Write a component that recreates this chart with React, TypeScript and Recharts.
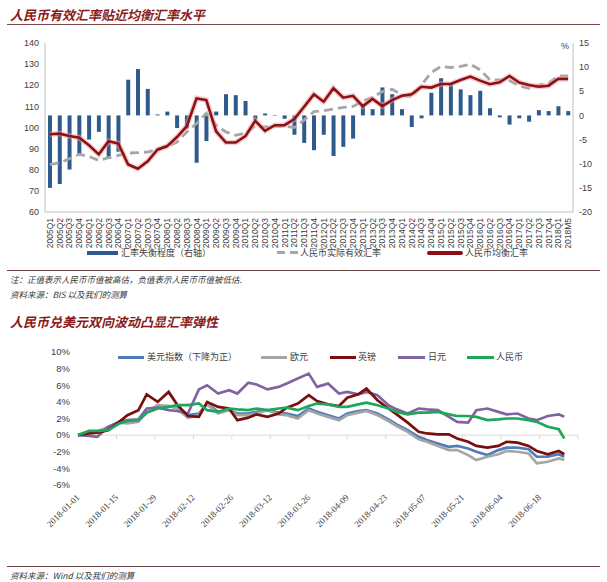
import React from 'react';
import { ComposedChart, Bar, Line, XAxis, YAxis, ReferenceLine } from 'recharts';

// ---------- Chart 1: 人民币有效汇率贴近均衡汇率水平 ----------
const quarters: string[] = [
  '2005Q1', '2005Q2', '2005Q3', '2005Q4', '2006Q1', '2006Q2', '2006Q3', '2006Q4',
  '2007Q1', '2007Q2', '2007Q3', '2007Q4', '2008Q1', '2008Q2', '2008Q3', '2008Q4',
  '2009Q1', '2009Q2', '2009Q3', '2009Q4', '2010Q1', '2010Q2', '2010Q3', '2010Q4',
  '2011Q1', '2011Q2', '2011Q3', '2011Q4', '2012Q1', '2012Q2', '2012Q3', '2012Q4',
  '2013Q1', '2013Q2', '2013Q3', '2013Q4', '2014Q1', '2014Q2', '2014Q3', '2014Q4',
  '2015Q1', '2015Q2', '2015Q3', '2015Q4', '2016Q1', '2016Q2', '2016Q3', '2016Q4',
  '2017Q1', '2017Q2', '2017Q3', '2017Q4', '2018Q1', '2018M5',
];

// 汇率失衡程度（右轴, %）
const misalignment: number[] = [
  -15.0, -14.2, -11.2, -8.4, -5.0, -3.4, -9.0, -7.5,
  7.4, 9.6, 5.5, 0.2, 0.8, -2.6, -2.7, -9.8,
  -5.3, 0.8, 4.4, 4.2, 3.0, -0.9, 0.4, 0.1,
  -0.7, -4.0, -5.7, -7.2, -4.0, -8.4, -6.5, -4.8,
  2.0, 1.3, 5.8, 4.4, 1.3, -2.4, -0.6, 4.7,
  7.7, 6.7, 5.4, 4.2, 5.1, 1.5, -0.4, -1.9,
  -0.6, -1.3, 1.1, 0.9, 1.9, 0.9,
];

// 人民币实际有效汇率
const reer: number[] = [
  82.4, 83.3, 85.2, 87.3, 86.3, 84.4, 85.7, 86.8,
  87.9, 88.1, 88.4, 89.7, 90.8, 93.1, 97.9, 101.9,
  106.7, 101.1, 97.9, 96.3, 97.4, 100.6, 100.3, 100.6,
  100.6, 100.0, 103.5, 107.5, 108.0, 108.7, 109.5, 110.0,
  112.5, 114.3, 117.0, 118.1, 115.4, 114.6, 120.1, 126.0,
  128.9, 128.4, 128.9, 130.0, 127.3, 122.5, 122.5, 122.2,
  119.7, 118.6, 120.1, 121.0, 124.4, 124.4,
];

// 人民币均衡汇率
const equilibrium: number[] = [
  96.8, 97.1, 96.0, 95.2, 91.6, 87.3, 93.5, 92.4,
  82.5, 80.5, 84.0, 89.5, 91.2, 95.5, 100.6, 113.8,
  113.0, 98.2, 92.9, 92.9, 95.9, 103.2, 98.4, 101.1,
  101.1, 104.0, 109.8, 115.7, 112.2, 118.6, 114.1, 115.0,
  110.1, 113.5, 110.1, 113.0, 115.0, 115.7, 119.3, 118.9,
  120.6, 120.6, 122.5, 124.1, 122.2, 120.5, 121.4, 124.4,
  121.3, 120.1, 119.3, 119.8, 123.1, 123.0,
];

const leftTicks: number[] = [60, 70, 80, 90, 100, 110, 120, 130, 140];
const rightTicks: number[] = [-20, -15, -10, -5, 0, 5, 10, 15];

// ---------- Chart 2: 人民币兑美元双向波动凸显汇率弹性 ----------
// days since 2018-01-01
const days: number[] = [
  0, 4, 7, 11, 15, 18, 22, 25, 29, 33,
  36, 40, 44, 47, 51, 55, 58, 62, 65, 69,
  73, 76, 80, 84, 87, 91, 95, 98, 102, 105,
  109, 113, 116, 120, 124, 127, 131, 135, 138, 142,
  145, 149, 153, 156, 160, 164, 167, 171, 175, 177,
];
const usdIdx: number[] = [
  0, 0.4, 0.4, 0.9, 1.6, 1.6, 1.7, 2.8, 3.4, 3.5,
  3.4, 2.4, 2.6, 3.8, 2.8, 3.0, 2.6, 2.6, 2.8, 3.0,
  2.7, 2.6, 2.3, 3.2, 2.8, 2.4, 2.0, 2.6, 2.9, 3.0,
  2.6, 1.9, 1.3, 0.6, -0.2, -0.6, -1.0, -1.4, -1.3, -1.6,
  -2.0, -2.4, -1.8, -1.5, -1.5, -1.7, -2.6, -2.6, -2.3, -2.6,
];
const eur: number[] = [
  0, 0.3, 0.4, 1.0, 1.5, 1.4, 1.6, 2.8, 3.6, 3.5,
  3.2, 2.1, 2.4, 3.7, 2.6, 3.0, 2.4, 2.4, 2.6, 3.0,
  2.5, 2.4, 2.0, 3.0, 2.6, 2.2, 1.8, 2.4, 2.7, 2.9,
  2.4, 1.7, 1.1, 0.4, -0.5, -0.8, -1.3, -1.8, -1.8, -2.4,
  -3.0, -2.6, -2.3, -1.9, -2.0, -2.2, -3.4, -3.2, -2.8, -3.0,
];
const gbp: number[] = [
  0, 0.2, 0.3, 0.6, 1.6, 2.4, 3.0, 4.9, 4.0, 5.2,
  3.7, 2.3, 2.2, 4.0, 3.4, 3.2, 1.8, 2.1, 2.5, 2.2,
  2.6, 3.3, 3.8, 4.8, 4.1, 3.7, 3.5, 4.5, 4.9, 5.6,
  4.2, 3.2, 2.5, 1.5, 0.4, 0.2, 0.1, 0.1, -0.4, -0.8,
  -1.3, -1.5, -1.3, -0.8, -0.9, -1.3, -1.9, -2.3, -1.9, -2.3,
];
const jpy: number[] = [
  0, -0.1, -0.2, 1.0, 1.6, 1.8, 1.9, 3.2, 3.3, 3.0,
  2.9, 2.6, 5.5, 6.0, 5.0, 5.4, 5.0, 6.3, 6.1, 5.5,
  5.8, 6.2, 6.8, 7.4, 5.8, 6.2, 5.0, 5.2, 4.9, 5.2,
  4.8, 3.6, 3.1, 2.6, 3.2, 3.1, 3.0, 2.2, 1.6, 1.5,
  3.0, 3.2, 2.8, 2.5, 2.6, 2.0, 1.8, 2.3, 2.5, 2.2,
];
const cny: number[] = [
  0, 0.5, 0.5, 0.6, 1.4, 1.7, 1.8, 2.7, 3.2, 3.4,
  3.6, 3.6, 3.8, 3.0, 2.8, 3.2, 3.1, 3.0, 3.2, 3.0,
  3.2, 3.3, 3.0, 3.5, 3.8, 3.7, 3.4, 3.4, 3.7, 3.9,
  3.6, 3.2, 2.8, 2.5, 2.7, 2.7, 2.8, 2.5, 2.3, 2.3,
  2.2, 1.8, 1.9, 2.0, 2.0, 1.8, 1.6, 1.0, 0.7, -0.4,
];
const dateTicks: number[] = [0, 14, 28, 42, 56, 70, 84, 98, 112, 126, 140, 154, 168];
const zeroLineTicks: number[] = [14, 28, 42, 56, 70, 84, 98, 112, 126, 140, 154, 168, 182];
const pctTicks: number[] = [-6, -4, -2, 0, 2, 4, 6, 8, 10];

const FONT_CJK = '"Noto Sans CJK SC", "Noto Sans", sans-serif';
const FONT_NUM = '"Liberation Sans", Arial, sans-serif';
const TEXT_COLOR = '#404040';

const C_BAR = '#2F5B8C';
const C_REER = '#A6A6A6';
const C_EQ = '#8E0F14';

const C_USD = '#4F7DBA';
const C_EUR = '#A5A5A5';
const C_GBP = '#7A0E0E';
const C_JPY = '#8064A2';
const C_CNY = '#1FA65A';

const QTick = (props: any) => {
  const { x, y, payload } = props;
  return (
    <text
      x={x}
      y={y}
      transform={`rotate(-90, ${x}, ${y})`}
      textAnchor="end"
      dy={3}
      fontSize={8.5}
      fontFamily={FONT_NUM}
      fill={TEXT_COLOR}
    >
      {payload.value}
    </text>
  );
};

const DateTick = (props: any) => {
  const { x, y, payload } = props;
  const dt = new Date(Date.UTC(2018, 0, 1 + Number(payload.value)));
  const s = dt.toISOString().slice(0, 10);
  return (
    <text
      x={x}
      y={y}
      transform={`rotate(-45, ${x}, ${y})`}
      textAnchor="end"
      dy={5}
      dx={-2}
      fontSize={9}
      fontFamily='"Liberation Serif", serif'
      fill={TEXT_COLOR}
    >
      {s}
    </text>
  );
};

const abs = (l: number, t: number, extra: React.CSSProperties = {}): React.CSSProperties => ({
  position: 'absolute',
  left: l,
  top: t,
  ...extra,
});

export default function App() {
  const topData = quarters.map((q, i) => ({
    q,
    mis: misalignment[i],
    reer: reer[i],
    eq: equilibrium[i],
  }));
  const fxData = days.map((d, i) => ({
    d,
    usd: usdIdx[i],
    eur: eur[i],
    gbp: gbp[i],
    jpy: jpy[i],
    cny: cny[i],
  }));

  const titleStyle: React.CSSProperties = {
    fontSize: 13,
    fontWeight: 700,
    fontStyle: 'italic',
    color: '#8B1A1A',
    whiteSpace: 'nowrap',
    fontFamily: FONT_CJK,
    lineHeight: '16px',
  };
  const legendText: React.CSSProperties = {
    fontSize: 9,
    color: TEXT_COLOR,
    whiteSpace: 'nowrap',
    fontFamily: FONT_CJK,
    lineHeight: '12px',
  };
  const noteText: React.CSSProperties = {
    fontSize: 8.5,
    fontStyle: 'italic',
    color: '#333',
    whiteSpace: 'nowrap',
    fontFamily: FONT_CJK,
    lineHeight: '12px',
  };

  return (
    <div
      style={{
        position: 'absolute',
        left: 0,
        top: 0,
        width: 607,
        height: 582,
        background: '#fff',
        overflow: 'hidden',
      }}
    >
      {/* Title 1 */}
      <div style={abs(10, 7, titleStyle)}>人民币有效汇率贴近均衡汇率水平</div>
      <div style={abs(7, 24, { width: 593, height: 1, background: '#7B4A4A' })} />

      {/* Chart 1 */}
      <div style={abs(0, 0)}>
        <ComposedChart
          width={607}
          height={252}
          data={topData}
          margin={{ top: 43, right: 5, bottom: 2, left: 5 }}
        >
          <XAxis
            dataKey="q"
            interval={0}
            height={38}
            tick={<QTick />}
            tickLine={false}
            tickSize={4}
            axisLine={{ stroke: '#BFBFBF' }}
          />
          <YAxis
            yAxisId="left"
            domain={[60, 140]}
            ticks={leftTicks}
            width={40}
            interval={0}
            axisLine={{ stroke: '#BFBFBF' }}
            tickLine={false}
            tickSize={4}
            tick={{ fontSize: 9, fill: TEXT_COLOR, fontFamily: FONT_NUM }}
          />
          <YAxis
            yAxisId="right"
            orientation="right"
            domain={[-20, 15]}
            ticks={rightTicks}
            width={29}
            interval={0}
            axisLine={{ stroke: '#BFBFBF' }}
            tickLine={false}
            tickSize={4}
            tick={{ fontSize: 9, fill: TEXT_COLOR, fontFamily: FONT_NUM, textAnchor: 'start' }}
          />
          <Bar yAxisId="right" dataKey="mis" fill={C_BAR} barSize={4} isAnimationActive={false} />
          <Line
            yAxisId="left"
            dataKey="reer"
            stroke={C_REER}
            strokeWidth={2.8}
            strokeDasharray="9 5"
            dot={false}
            activeDot={false}
            isAnimationActive={false}
          />
          <Line
            yAxisId="left"
            dataKey="eq"
            stroke="#EDAAAA"
            strokeOpacity={0.55}
            strokeWidth={5.5}
            dot={false}
            activeDot={false}
            legendType="none"
            isAnimationActive={false}
          />
          <Line
            yAxisId="left"
            dataKey="eq"
            stroke={C_EQ}
            strokeWidth={2.6}
            dot={false}
            activeDot={false}
            isAnimationActive={false}
          />
        </ComposedChart>
      </div>
      <div style={abs(561, 41, { fontSize: 9, color: TEXT_COLOR, fontFamily: FONT_NUM })}>%</div>

      {/* Legend 1 */}
      <div style={abs(87, 251, { width: 31, height: 4, background: C_BAR })} />
      <div style={abs(121, 247, legendText)}>汇率失衡程度（右轴）</div>
      <div style={abs(277, 251, { width: 8, height: 3, background: C_REER })} />
      <div style={abs(290, 251, { width: 8, height: 3, background: C_REER })} />
      <div style={abs(300, 247, legendText)}>人民币实际有效汇率</div>
      <div style={abs(427, 251, { width: 36, height: 4, background: C_EQ, borderRadius: 2 })} />
      <div style={abs(465, 247, legendText)}>人民币均衡汇率</div>

      <div style={abs(7, 270, { width: 593, height: 1, background: '#6B4444' })} />
      <div style={abs(10, 273, noteText)}>注：正值表示人民币币值被高估，负值表示人民币币值被低估.</div>
      <div style={abs(10, 288, noteText)}>资料来源：BIS 以及我们的测算</div>

      {/* Title 2 */}
      <div style={abs(10, 314, titleStyle)}>人民币兑美元双向波动凸显汇率弹性</div>

      {/* Chart 2 */}
      <div style={abs(0, 330)}>
        <ComposedChart
          width={607}
          height={240}
          data={fxData}
          margin={{ top: 22, right: 29, bottom: 40, left: 8 }}
        >
          <XAxis
            dataKey="d"
            type="number"
            domain={[0, 182]}
            ticks={dateTicks}
            interval={0}
            height={45}
            axisLine={false}
            tickLine={false}
            tick={<DateTick />}
          />
          <YAxis
            domain={[-6, 10]}
            ticks={pctTicks}
            interval={0}
            width={70}
            axisLine={false}
            tickLine={false}
            tickFormatter={(v: number) => `${v}%`}
            tick={{ fontSize: 9.5, fill: TEXT_COLOR, fontFamily: FONT_NUM }}
          />
          <ReferenceLine y={0} stroke="#D9D9D9" strokeWidth={1} />
          {zeroLineTicks.map((t) => (
            <ReferenceLine
              key={`zt-${t}`}
              segment={[
                { x: t, y: 0 },
                { x: t, y: -0.5 },
              ]}
              stroke="#D9D9D9"
              strokeWidth={1}
            />
          ))}
          <Line dataKey="usd" stroke={C_USD} strokeWidth={2.7} dot={false} activeDot={false} isAnimationActive={false} />
          <Line dataKey="eur" stroke={C_EUR} strokeWidth={2.7} dot={false} activeDot={false} isAnimationActive={false} />
          <Line dataKey="jpy" stroke={C_JPY} strokeWidth={2.7} dot={false} activeDot={false} isAnimationActive={false} />
          <Line dataKey="gbp" stroke={C_GBP} strokeWidth={2.7} dot={false} activeDot={false} isAnimationActive={false} />
          <Line dataKey="cny" stroke={C_CNY} strokeWidth={2.7} dot={false} activeDot={false} isAnimationActive={false} />
        </ComposedChart>
      </div>

      {/* Legend 2 */}
      <div style={abs(118, 356, { width: 26, height: 3, background: C_USD })} />
      <div style={abs(147, 351, legendText)}>美元指数（下降为正）</div>
      <div style={abs(261, 356, { width: 26, height: 3, background: C_EUR })} />
      <div style={abs(290, 351, legendText)}>欧元</div>
      <div style={abs(330, 356, { width: 26, height: 3, background: C_GBP })} />
      <div style={abs(358, 351, legendText)}>英镑</div>
      <div style={abs(398, 356, { width: 27, height: 3, background: C_JPY })} />
      <div style={abs(428, 351, legendText)}>日元</div>
      <div style={abs(467, 356, { width: 27, height: 3, background: C_CNY })} />
      <div style={abs(496, 351, legendText)}>人民币</div>

      {/* Footer */}
      <div style={abs(7, 566, { width: 593, height: 1, background: '#6B4444' })} />
      <div style={abs(10, 569, noteText)}>资料来源：Wind 以及我们的测算</div>
    </div>
  );
}
